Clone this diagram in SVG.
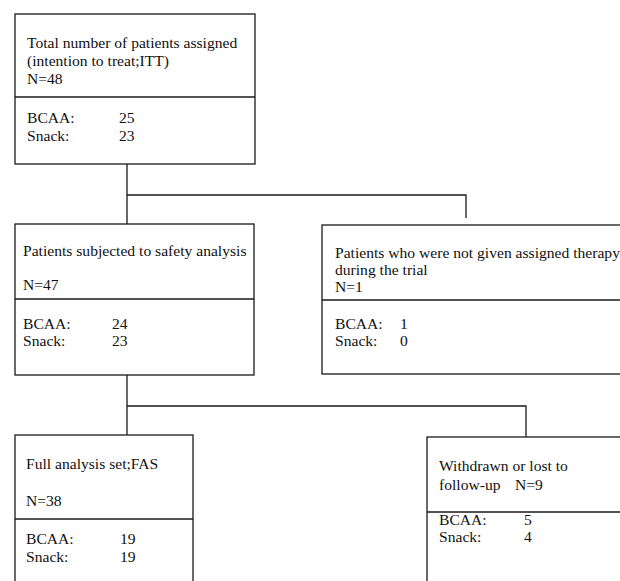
<svg xmlns="http://www.w3.org/2000/svg" width="620" height="581" viewBox="0 0 620 581">
<style>
.box{fill:#fff;stroke:#1a1a1a;stroke-width:1.3}
.div{stroke:#1a1a1a;stroke-width:1.3;fill:none}
.conn{stroke:#1a1a1a;stroke-width:1.3;fill:none}
text{font-family:"Liberation Serif","Times New Roman",serif;font-size:15.6px;fill:#111}
</style>
<rect width="620" height="581" fill="#fff"/>
<g id="connectors">
<path class="conn" d="M127,164 V224 M127,195 H466 V218"/>
<path class="conn" d="M127,375 V435 M127,406 H526 V437"/>
</g>
<g id="itt">
<rect class="box" x="15" y="14" width="240" height="150"/>
<line class="div" x1="15" y1="97" x2="255" y2="97"/>
<text x="27" y="48">Total number of patients assigned</text>
<text x="27" y="66">(intention to treat;ITT)</text>
<text x="27" y="84">N=48</text>
<text x="27" y="123">BCAA:</text><text x="119" y="123">25</text>
<text x="27" y="141">Snack:</text><text x="119" y="141">23</text>
</g>
<g id="safety">
<rect class="box" x="15" y="224" width="239" height="151"/>
<line class="div" x1="15" y1="299" x2="254" y2="299"/>
<text x="23" y="256">Patients subjected to safety analysis</text>
<text x="23" y="290">N=47</text>
<text x="23" y="329">BCAA:</text><text x="112" y="329">24</text>
<text x="23" y="346">Snack:</text><text x="112" y="346">23</text>
</g>
<g id="notgiven">
<rect class="box" x="322" y="225" width="310" height="149"/>
<line class="div" x1="322" y1="300" x2="632" y2="300"/>
<text x="335" y="258">Patients who were not given assigned therapy</text>
<text x="335" y="275">during the trial</text>
<text x="335" y="292">N=1</text>
<text x="335" y="329">BCAA:</text><text x="400" y="329">1</text>
<text x="335" y="346">Snack:</text><text x="400" y="346">0</text>
</g>
<g id="fas">
<rect class="box" x="15" y="435" width="178" height="160"/>
<line class="div" x1="15" y1="519" x2="193" y2="519"/>
<text x="26" y="469">Full analysis set;FAS</text>
<text x="26" y="506">N=38</text>
<text x="26" y="544">BCAA:</text><text x="120" y="544">19</text>
<text x="26" y="562">Snack:</text><text x="120" y="562">19</text>
</g>
<g id="withdrawn">
<rect class="box" x="427" y="437" width="205" height="160"/>
<line class="div" x1="427" y1="512" x2="632" y2="512"/>
<text x="439" y="471">Withdrawn or lost to</text>
<text x="439" y="490">follow-up</text><text x="515" y="490">N=9</text>
<text x="439" y="525">BCAA:</text><text x="524" y="525">5</text>
<text x="439" y="542">Snack:</text><text x="524" y="542">4</text>
</g>
</svg>
